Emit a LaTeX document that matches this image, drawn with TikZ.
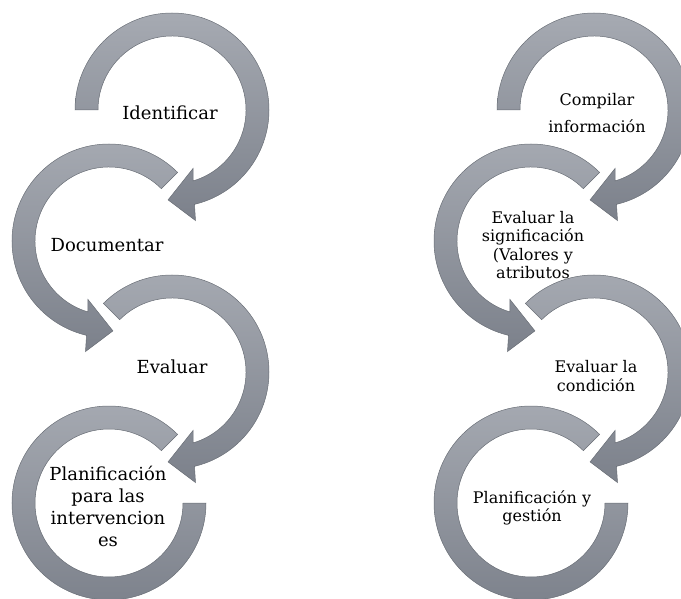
\documentclass[tikz,border=0pt]{standalone}
\usepackage{fontspec}
\setmainfont{DejaVu Serif}

\definecolor{arctop}{RGB}{166,170,178}
\definecolor{arcbot}{RGB}{124,129,139}
\definecolor{arcline}{RGB}{105,110,118}

\begin{document}
\begin{tikzpicture}[x=1pt,y=1pt,
    ring/.style={top color=arctop,bottom color=arcbot,draw=arcline,line width=0.5pt},
    bigtxt/.style={align=center,inner sep=0pt,font=\fontsize{18}{22}\selectfont},
    smalltxt/.style={align=center,inner sep=0pt,font=\fontsize{16}{18.5}\selectfont}]
        \useasboundingbox (0,0) rectangle (681,-599);
        \clip (0,0) rectangle (681,-599);
        % centres of the rings
        \coordinate (l1) at (172,-110);
        \coordinate (l2) at (109,-241);
        \coordinate (l3) at (172,-372);
        \coordinate (l4) at (109,-503);
        \coordinate (r1) at (594,-110);
        \coordinate (r2) at (531,-241);
        \coordinate (r3) at (594,-372);
        \coordinate (r4) at (531,-503);
        % left column
        \draw[ring,shift={(l1)}] (180:97pt) arc[start angle=180,end angle=-76.6,radius=97pt] -- (-78:113pt) -- (-92.5:90pt) -- (-70:62pt) -- (-73.4:74pt) arc[start angle=-73.4,end angle=180,radius=74pt] -- cycle;
        \draw[ring,shift={(l2)}] (45:97pt) arc[start angle=45,end angle=256.6,radius=97pt] -- (258:113pt) -- (272.5:90pt) -- (250:62pt) -- (253.4:74pt) arc[start angle=253.4,end angle=45,radius=74pt] -- cycle;
        \draw[ring,shift={(l3)}] (135:97pt) arc[start angle=135,end angle=-76.6,radius=97pt] -- (-78:113pt) -- (-92.5:90pt) -- (-70:62pt) -- (-73.4:74pt) arc[start angle=-73.4,end angle=135,radius=74pt] -- cycle;
        \draw[ring,shift={(l4)}] (45:97pt) arc[start angle=45,end angle=360,radius=97pt] -- (0:74pt) arc[start angle=360,end angle=45,radius=74pt] -- cycle;
        \node[bigtxt] (ident) at (170,-113) {Identificar};
        \node[bigtxt] (docum) at (107,-245) {Documentar};
        \node[bigtxt] (evalu) at (172,-367) {Evaluar};
        \node[bigtxt] (planif) at (108,-506) {Planificación\\para las\\intervencion\\es};
        % right column
        \draw[ring,shift={(r1)}] (180:97pt) arc[start angle=180,end angle=-76.6,radius=97pt] -- (-78:113pt) -- (-92.5:90pt) -- (-70:62pt) -- (-73.4:74pt) arc[start angle=-73.4,end angle=180,radius=74pt] -- cycle;
        \draw[ring,shift={(r2)}] (45:97pt) arc[start angle=45,end angle=256.6,radius=97pt] -- (258:113pt) -- (272.5:90pt) -- (250:62pt) -- (253.4:74pt) arc[start angle=253.4,end angle=45,radius=74pt] -- cycle;
        \node[smalltxt] (compil) at (597,-113) {Compilar\\[8pt]información};
        \node[smalltxt] (signif) at (533,-245) {Evaluar la\\significación\\(Valores y\\atributos};
        \draw[ring,shift={(r3)}] (135:97pt) arc[start angle=135,end angle=-76.6,radius=97pt] -- (-78:113pt) -- (-92.5:90pt) -- (-70:62pt) -- (-73.4:74pt) arc[start angle=-73.4,end angle=135,radius=74pt] -- cycle;
        \draw[ring,shift={(r4)}] (45:97pt) arc[start angle=45,end angle=360,radius=97pt] -- (0:74pt) arc[start angle=360,end angle=45,radius=74pt] -- cycle;
        \node[smalltxt] (condic) at (596,-376) {Evaluar la\\condición};
        \node[smalltxt] (gestion) at (532,-508) {Planificación y\\gestión};
    \end{tikzpicture}
\end{document}
